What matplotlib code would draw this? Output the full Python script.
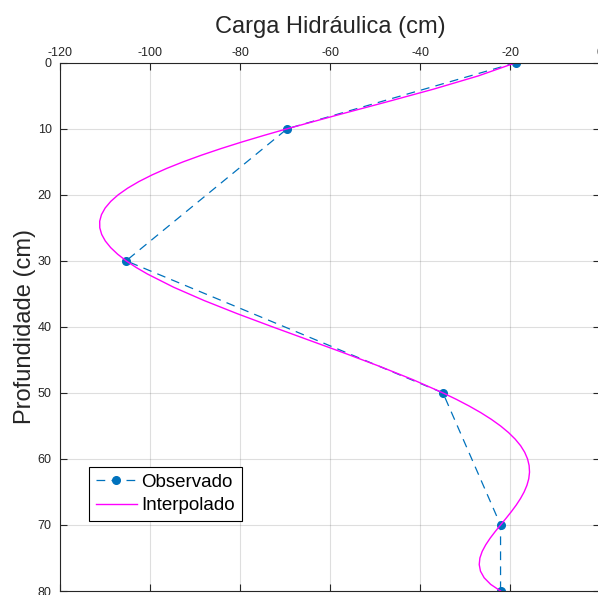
import matplotlib
matplotlib.use('Agg')
import matplotlib.pyplot as plt

plt.rcParams['font.family'] = ['Liberation Sans', 'DejaVu Sans']
plt.rcParams['axes.unicode_minus'] = False

# Observed hydraulic head at each depth
obs_depth = [0, 10, 30, 50, 70, 80]
obs_head = [-18.7, -69.5, -105.3, -34.9, -22.1, -22.1]

# Interpolated profile (denser sampling where the curve bends)
interp_depth = [0, 2, 4, 6, 8, 10, 11, 12, 13, 14, 15, 16, 17, 18, 19, 20,
                21, 22, 23, 24, 25, 26, 27, 28, 29, 30, 31, 32, 34, 36, 38,
                40, 42, 44, 46, 48, 50, 51, 52, 53, 54, 55, 56, 57, 58, 59,
                60, 61, 62, 63, 64, 65, 66, 67, 68, 69, 70, 71, 72, 73, 74,
                75, 76, 77, 78, 79, 80]
interp_head = [-18.70, -27.05, -36.97, -47.74, -58.76, -69.50, -74.63, -79.55,
               -84.20, -88.55, -92.58, -96.26, -99.56, -102.47, -104.97,
               -107.06, -108.72, -109.96, -110.78, -111.18, -111.16, -110.74,
               -109.93, -108.74, -107.19, -105.30, -103.09, -100.57, -94.75,
               -88.03, -80.63, -72.78, -64.73, -56.69, -48.90, -41.57, -34.90,
               -31.86, -29.05, -26.47, -24.16, -22.11, -20.34, -18.85, -17.64,
               -16.73, -16.10, -15.75, -15.66, -15.83, -16.24, -16.86, -17.67,
               -18.63, -19.72, -20.89, -22.10, -23.29, -24.41, -25.39, -26.18,
               -26.69, -26.84, -26.56, -25.74, -24.29, -22.10]

x_ticks = [-120, -100, -80, -60, -40, -20, 0]
y_ticks = [0, 10, 20, 30, 40, 50, 60, 70, 80]

axis_color = '#262626'

fig = plt.figure(figsize=(5.98, 5.95), dpi=100)
ax = fig.add_axes([60 / 598, 4 / 595, 540 / 598, 528.3 / 595])

ax.plot(obs_head, obs_depth, color='#0072BD', linestyle='--', dashes=(7, 5),
        linewidth=0.9, marker='o', markersize=5.5, label='Observado')
ax.plot(interp_head, interp_depth, color='#FF00FF', linewidth=1.0,
        label='Interpolado')

ax.set_xlim(-120, 0)
ax.set_ylim(80, 0)
ax.set_xticks(x_ticks)
ax.set_yticks(y_ticks)

ax.xaxis.tick_top()
ax.xaxis.set_label_position('top')
ax.tick_params(direction='in', top=True, bottom=True, left=True, right=True,
               labeltop=True, labelbottom=False, length=5, width=0.8,
               colors=axis_color, labelsize=9)
ax.tick_params(axis='x', pad=2.5)
ax.tick_params(axis='y', pad=6)

for side in ax.spines.values():
    side.set_color(axis_color)
    side.set_linewidth(0.8)

ax.grid(True, color=axis_color, alpha=0.15, linewidth=0.8)
ax.set_axisbelow(True)

ax.set_xlabel('Carga Hidráulica (cm)', fontsize=17, color=axis_color, labelpad=10.5)
ax.set_ylabel('Profundidade (cm)', fontsize=17, color=axis_color, labelpad=1.5)

leg = ax.legend(loc='upper left', bbox_to_anchor=(0.0537, 0.235), borderaxespad=0,
                fontsize=13.5, frameon=True, fancybox=False, framealpha=1,
                edgecolor='black', handlelength=2.2, handletextpad=0.25,
                borderpad=0.35, labelspacing=0.35)
leg.get_frame().set_linewidth(0.8)

fig.savefig('out.png', dpi=100)
